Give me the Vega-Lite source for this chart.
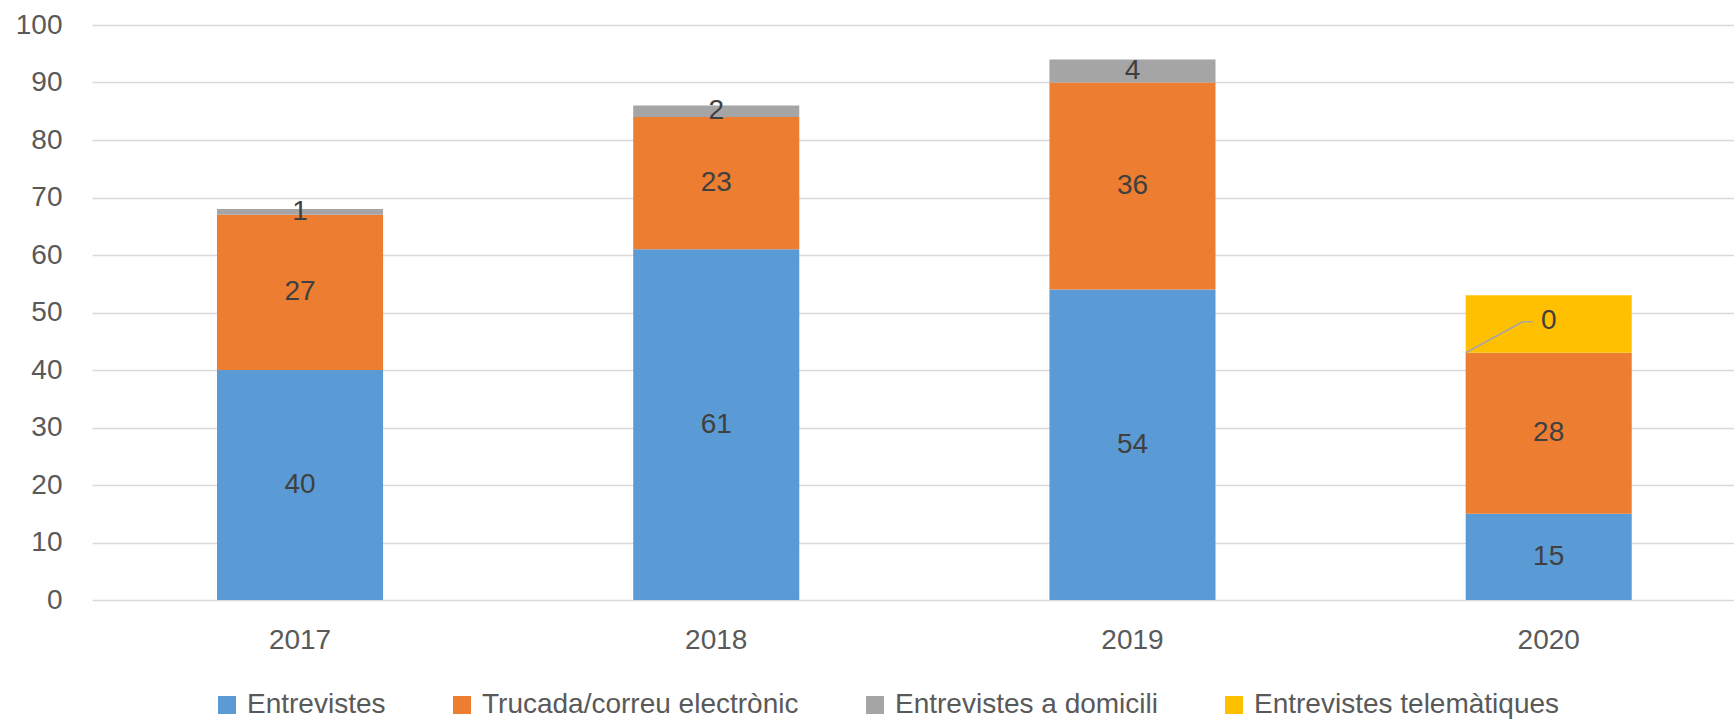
{
  "$schema": "https://vega.github.io/schema/vega-lite/v6.json",
  "width": 1642,
  "height": 575,
  "autosize": {"type": "none"},
  "padding": {"left": 92, "top": 25, "right": 0, "bottom": 119},
  "background": "white",
  "config": {
    "font": "Liberation Sans",
    "view": {"stroke": null}
  },
  "data": {
    "values": [
      {"year": "2017", "serie": "Entrevistes", "k": 1, "value": 40},
      {"year": "2017", "serie": "Trucada/correu electrònic", "k": 2, "value": 27},
      {"year": "2017", "serie": "Entrevistes a domicili", "k": 3, "value": 1},
      {"year": "2017", "serie": "Entrevistes telemàtiques", "k": 4, "value": 0},
      {"year": "2018", "serie": "Entrevistes", "k": 1, "value": 61},
      {"year": "2018", "serie": "Trucada/correu electrònic", "k": 2, "value": 23},
      {"year": "2018", "serie": "Entrevistes a domicili", "k": 3, "value": 2},
      {"year": "2018", "serie": "Entrevistes telemàtiques", "k": 4, "value": 0},
      {"year": "2019", "serie": "Entrevistes", "k": 1, "value": 54},
      {"year": "2019", "serie": "Trucada/correu electrònic", "k": 2, "value": 36},
      {"year": "2019", "serie": "Entrevistes a domicili", "k": 3, "value": 4},
      {"year": "2019", "serie": "Entrevistes telemàtiques", "k": 4, "value": 0},
      {"year": "2020", "serie": "Entrevistes", "k": 1, "value": 15},
      {"year": "2020", "serie": "Trucada/correu electrònic", "k": 2, "value": 28},
      {"year": "2020", "serie": "Entrevistes a domicili", "k": 3, "value": 0},
      {"year": "2020", "serie": "Entrevistes telemàtiques", "k": 4, "value": 10}
    ]
  },
  "transform": [
    {"stack": "value", "groupby": ["year"], "sort": [{"field": "k", "order": "ascending"}], "as": ["y0", "y1"]},
    {"calculate": "(datum.y0 + datum.y1) / 2", "as": "mid"}
  ],
  "encoding": {
    "x": {
      "field": "year",
      "type": "nominal",
      "scale": {"paddingInner": 0.601, "paddingOuter": 0.273, "align": 0.55},
      "axis": {
        "title": null,
        "labelAngle": 0,
        "domain": false,
        "ticks": false,
        "tickSize": 0,
        "labelFontSize": 28,
        "labelColor": "#595959",
        "labelPadding": 26
      }
    }
  },
  "layer": [
    {
      "mark": {"type": "bar"},
      "encoding": {
        "y": {
          "field": "y0",
          "type": "quantitative",
          "scale": {"domain": [0, 100], "nice": false},
          "axis": {
            "title": null,
            "values": [0, 10, 20, 30, 40, 50, 60, 70, 80, 90, 100],
            "domain": false,
            "ticks": false,
            "tickSize": 0,
            "grid": true,
            "gridColor": "#D9D9D9",
            "gridWidth": 1.3,
            "labelFontSize": 28,
            "labelColor": "#595959",
            "labelPadding": 30
          }
        },
        "y2": {"field": "y1"},
        "color": {
          "field": "serie",
          "type": "nominal",
          "scale": {
            "domain": ["Entrevistes", "Trucada/correu electrònic", "Entrevistes a domicili", "Entrevistes telemàtiques"],
            "range": ["#5B9BD5", "#ED7D31", "#A5A5A5", "#FFC000"]
          },
          "legend": {
            "title": null,
            "orient": "none",
            "legendX": 121,
            "legendY": 666,
            "direction": "horizontal",
            "symbolType": "square",
            "symbolSize": 324,
            "symbolStrokeWidth": 0,
            "labelFontSize": 28,
            "labelColor": "#595959",
            "labelOffset": 6,
            "labelLimit": 600,
            "columnPadding": 62
          }
        }
      }
    },
    {
      "transform": [{"filter": "datum.value > 0 && datum.serie != 'Entrevistes telemàtiques'"}],
      "mark": {"type": "text", "fontSize": 28, "color": "#404040", "baseline": "middle", "align": "center"},
      "encoding": {
        "y": {"field": "mid", "type": "quantitative"},
        "text": {"field": "value", "type": "quantitative"}
      }
    },
    {
      "transform": [{"filter": "datum.year == '2020' && datum.serie == 'Entrevistes a domicili'"}],
      "mark": {"type": "text", "fontSize": 28, "color": "#404040", "baseline": "middle", "align": "center", "dy": -31.5},
      "encoding": {
        "y": {"field": "mid", "type": "quantitative"},
        "text": {"field": "value", "type": "quantitative"}
      }
    },
    {
      "transform": [{"filter": "datum.year == '2020' && datum.serie == 'Entrevistes a domicili'"}],
      "mark": {"type": "rule", "color": "#A5A5A5", "strokeWidth": 1.5, "x2Offset": -26, "y2Offset": -31},
      "encoding": {
        "x": {"field": "year", "type": "nominal", "bandPosition": 0},
        "x2": {"field": "year"},
        "y": {"field": "mid", "type": "quantitative"},
        "y2": {"field": "mid"}
      }
    },
    {
      "transform": [{"filter": "datum.year == '2020' && datum.serie == 'Entrevistes a domicili'"}],
      "mark": {"type": "rule", "color": "#A5A5A5", "strokeWidth": 1.5, "xOffset": 57, "x2Offset": -16, "yOffset": -31, "y2Offset": -31},
      "encoding": {
        "x": {"field": "year", "type": "nominal", "bandPosition": 0},
        "x2": {"field": "year"},
        "y": {"field": "mid", "type": "quantitative"},
        "y2": {"field": "mid"}
      }
    }
  ]
}
